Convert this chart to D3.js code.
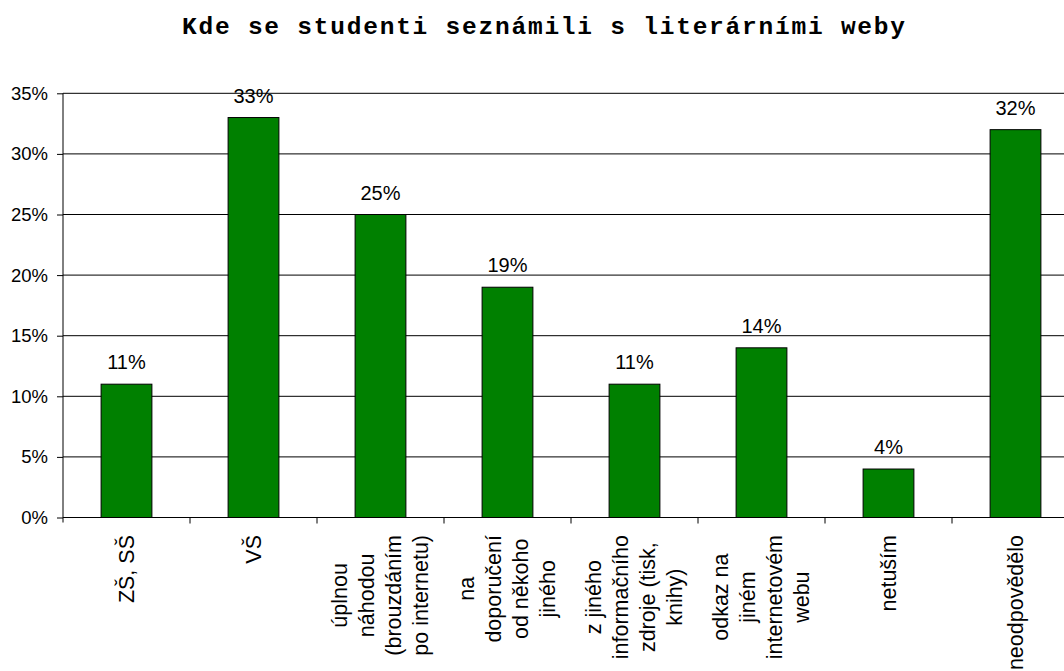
<!DOCTYPE html>
<html>
<head>
<meta charset="utf-8">
<script src="https://cdn.jsdelivr.net/npm/d3@7/dist/d3.min.js"></script>
<style>
  html, body { margin: 0; padding: 0; background: #fff; }
  svg { display: block; }
</style>
</head>
<body>
<svg id="chart" width="1064" height="671"></svg>
<script>
// Survey answers: where students first came across literary websites
const title = "Kde se studenti seznámili s literárními weby";
const categories = [
  "ZŠ, SŠ",
  "VŠ",
  "úplnou\nnáhodou\n(brouzdáním\npo internetu)",
  "na\ndoporučení\nod někoho\njiného",
  "z jiného\ninformačního\nzdroje (tisk,\nknihy)",
  "odkaz na\njiném\ninternetovém\nwebu",
  "netuším",
  "neodpovědělo"
];
const shares = [11, 33, 25, 19, 11, 14, 4, 32];
const yTicks = [0, 5, 10, 15, 20, 25, 30, 35];

const svg = d3.select("#chart");
const W = 1064, H = 671;
svg.append("rect").attr("width", W).attr("height", H).attr("fill", "#fff");

// Plot area runs a little past the right edge of the page
const left = 63, step = 127;
const x = d3.scaleBand()
  .domain(d3.range(categories.length))
  .range([left, left + step * categories.length])
  .paddingInner(0.6).paddingOuter(0.3);
const y = d3.scaleLinear().domain([0, 35]).range([517.5, 93.3]);

// Title
svg.append("text")
  .attr("x", 543.5).attr("y", 34)
  .attr("text-anchor", "middle")
  .attr("font-family", "'Liberation Mono', 'Courier New', monospace")
  .attr("font-weight", "bold")
  .attr("font-size", 24.5)
  .attr("textLength", 723)
  .attr("lengthAdjust", "spacing")
  .attr("fill", "#000")
  .text(title);

// Horizontal gridlines
svg.append("g")
  .selectAll("line")
  .data(yTicks.filter(d => d > 0))
  .join("line")
  .attr("x1", left).attr("x2", W)
  .attr("y1", d => y(d)).attr("y2", d => y(d))
  .attr("stroke", "#000").attr("stroke-width", 1);

// Y axis
const yAxis = d3.axisLeft(y).tickValues(yTicks).tickFormat(d => d + "%").tickSize(6).tickPadding(9);
const gy = svg.append("g").attr("transform", `translate(${left},0)`).call(yAxis);
gy.select(".domain").attr("d", `M0,${y(35)}V${y(0) + 5}`).attr("stroke", "#000");
gy.selectAll(".tick line").attr("stroke", "#000");
gy.selectAll(".tick text")
  .attr("font-family", "Arial, 'Liberation Sans', sans-serif")
  .attr("font-size", 18.5).attr("fill", "#000");

// Bars
svg.append("g")
  .selectAll("rect")
  .data(shares)
  .join("rect")
  .attr("x", (d, i) => x(i))
  .attr("y", d => y(d))
  .attr("width", x.bandwidth())
  .attr("height", d => y(0) - y(d))
  .attr("fill", "#008000")
  .attr("stroke", "#000")
  .attr("stroke-width", 1);

// Value labels
svg.append("g")
  .selectAll("text")
  .data(shares)
  .join("text")
  .attr("x", (d, i) => x(i) + x.bandwidth() / 2)
  .attr("y", d => y(d) - 15)
  .attr("text-anchor", "middle")
  .attr("font-family", "Arial, 'Liberation Sans', sans-serif")
  .attr("font-size", 20)
  .attr("fill", "#000")
  .text(d => d + "%");

// X axis line and category boundary ticks
const gx = svg.append("g");
gx.append("line")
  .attr("x1", left).attr("x2", W)
  .attr("y1", y(0)).attr("y2", y(0))
  .attr("stroke", "#000");
gx.selectAll("line.tick")
  .data(d3.range(1, categories.length))
  .join("line")
  .attr("class", "tick")
  .attr("x1", i => left + step * i).attr("x2", i => left + step * i)
  .attr("y1", y(0)).attr("y2", y(0) + 6)
  .attr("stroke", "#000");

// Rotated, multi-line category labels
const labelTop = 535, lineGap = 27;
categories.forEach((c, i) => {
  const lines = c.split("\n");
  const cx = x(i) + x.bandwidth() / 2;
  const g = svg.append("g");
  const texts = g.selectAll("text")
    .data(lines)
    .join("text")
    .attr("text-anchor", "middle")
    .attr("dominant-baseline", "central")
    .attr("font-family", "Arial, 'Liberation Sans', sans-serif")
    .attr("font-size", 21.5)
    .attr("fill", "#000")
    .text(d => d);
  let maxW = 0;
  texts.each(function() { maxW = Math.max(maxW, this.getComputedTextLength()); });
  const cy = labelTop + maxW / 2;
  texts.attr("transform", (d, j) =>
    `translate(${cx + (j - (lines.length - 1) / 2) * lineGap},${cy}) rotate(-90)`);
});
</script>
</body>
</html>
